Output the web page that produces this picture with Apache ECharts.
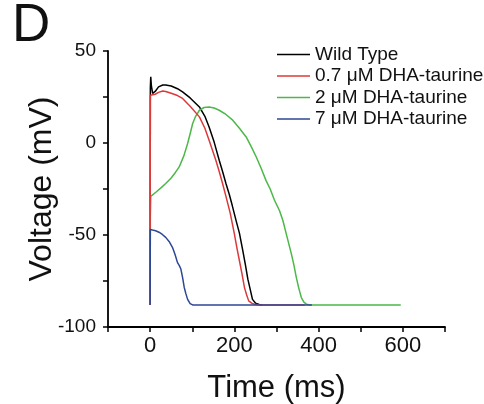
<!DOCTYPE html>
<html>
<head>
<meta charset="utf-8">
<script src="https://cdn.jsdelivr.net/npm/echarts@6/dist/echarts.min.js"></script>
<style>
html,body{margin:0;padding:0;background:#fff;}
#chart{width:484px;height:404px;}
</style>
</head>
<body>
<div id="chart"></div>
<script>
// Series names
const seriesNames = ['Wild Type', '0.7 \u03bcM DHA-taurine', '2 \u03bcM DHA-taurine', '7 \u03bcM DHA-taurine'];

// Wild Type (ms, mV)
const wtTime = [0, 0.5, 1.5, 3, 6, 12, 20, 30, 37, 50, 65, 77, 95, 117, 130, 140, 152, 164, 172, 180, 188, 195, 205, 212, 220, 226, 232, 238, 243, 250, 259, 265];
const wtVolt = [-88, 30, 36, 31, 27, 28, 30.5, 31.5, 31.5, 31, 29.5, 27.8, 24.5, 19.6, 14.5, 8.7, 0.5, -9.4, -15.5, -22, -28, -34, -43, -49, -58.5, -66, -74, -80, -85, -87, -87.8, -88];

// 0.7 uM DHA-taurine
const redTime = [0, 0.5, 5, 12, 20, 30, 37, 50, 65, 77, 95, 117, 130, 140, 148, 156, 164, 172, 180, 190, 200, 206, 212, 218, 224, 229, 234, 241, 248, 260, 367];
const redVolt = [-88, 26, 26, 26.5, 27.5, 28.3, 28, 27, 25.8, 24.2, 20, 14.2, 8, 1.5, -4, -9.4, -15.5, -22, -29, -38, -49.4, -57, -64, -71, -78.6, -82.5, -85.8, -87, -87.6, -88, -88];

// 2 uM DHA-taurine
const greenTime = [0, 0.5, 1, 1.5, 5, 15, 25, 37, 50, 60, 69, 80, 89, 95, 101, 108, 117, 128, 140, 152, 164, 180, 196, 212, 228, 240, 252, 264, 275, 285, 295, 307, 315, 325, 335, 341, 347, 353, 359, 365, 371, 380, 595];
const greenVolt = [-88, -40, -35, -29, -28, -26.5, -24.5, -22, -19, -16, -13, -7, -0.3, 5, 10.6, 14.5, 17.8, 19.3, 19.6, 19, 17.8, 15.5, 12.4, 8, 3.3, -2, -7.6, -14, -20.3, -25, -31, -36.7, -42, -51, -60, -66, -73, -79, -84, -86.5, -87.6, -88, -88];

// 7 uM DHA-taurine
const blueTime = [0, 0.5, 5.6, 13, 21, 29, 37, 45, 53, 59, 65, 69, 73, 77, 81, 85, 89, 95, 101, 110, 384];
const blueVolt = [-88, -47, -47.3, -47.7, -48.5, -49.7, -51.3, -53.5, -56.7, -60.5, -65, -66.5, -68.5, -73, -78.5, -82, -85, -87.3, -88, -88, -88];

// Axis ticks
const xTicks = [0, 200, 400, 600];
const yTicks = [-100, -50, 0, 50];

const pairs = (t, v) => t.map((x, i) => [x, v[i]]);
const FONT = "'Liberation Sans', Arial, sans-serif";

const chart = echarts.init(document.getElementById('chart'), null, {renderer: 'canvas'});

const mk = (name, t, v, color) => ({
  name: name,
  type: 'line',
  data: pairs(t, v),
  symbol: 'none',
  smooth: false,
  lineStyle: {color: color, width: 1.5},
  itemStyle: {color: color},
  animation: false
});

chart.setOption({
  backgroundColor: '#fff',
  animation: false,
  grid: {left: 108, right: 39, top: 51, bottom: 77, containLabel: false, outerBoundsMode: 'none'},
  graphic: [{
    type: 'text', left: 12, top: 0,
    style: {text: 'D', font: '53px ' + FONT, fill: '#111'}
  }],
  legend: {
    orient: 'vertical',
    left: 272, top: 40,
    icon: 'rect',
    itemWidth: 33, itemHeight: 1.6, itemGap: 2.5,
    data: seriesNames,
    textStyle: {fontFamily: FONT, fontSize: 19, color: '#111'}
  },
  xAxis: {
    type: 'value', min: -100, max: 700, interval: 100,
    name: 'Time (ms)', nameLocation: 'middle', nameGap: 46, nameMoveOverlap: false,
    nameTextStyle: {fontFamily: FONT, fontSize: 31, color: '#111'},
    axisLine: {show: true, onZero: false, lineStyle: {color: '#000', width: 1.8}},
    axisTick: {show: true, inside: false, length: 5, lineStyle: {color: '#000', width: 1.5}},
    axisLabel: {margin: 8, fontFamily: FONT, fontSize: 22, color: '#111',
      formatter: v => xTicks.includes(v) ? String(v) : ''},
    splitLine: {show: false}
  },
  yAxis: {
    type: 'value', min: -100, max: 50, interval: 25,
    name: 'Voltage (mV)', nameLocation: 'middle', nameGap: 50, nameRotate: 90, nameMoveOverlap: false,
    nameTextStyle: {fontFamily: FONT, fontSize: 32, color: '#111'},
    axisLine: {show: true, onZero: false, lineStyle: {color: '#000', width: 1.8}},
    axisTick: {show: true, inside: false, length: 5, lineStyle: {color: '#000', width: 1.5}},
    axisLabel: {margin: 12, fontFamily: FONT, fontSize: 19, color: '#111',
      formatter: v => yTicks.includes(v) ? String(v) : ''},
    splitLine: {show: false}
  },
  series: [
    mk(seriesNames[0], wtTime, wtVolt, '#000000'),
    mk(seriesNames[2], greenTime, greenVolt, '#4cb848'),
    mk(seriesNames[1], redTime, redVolt, '#dc3a3a'),
    mk(seriesNames[3], blueTime, blueVolt, '#2e4795')
  ]
});
</script>
</body>
</html>
